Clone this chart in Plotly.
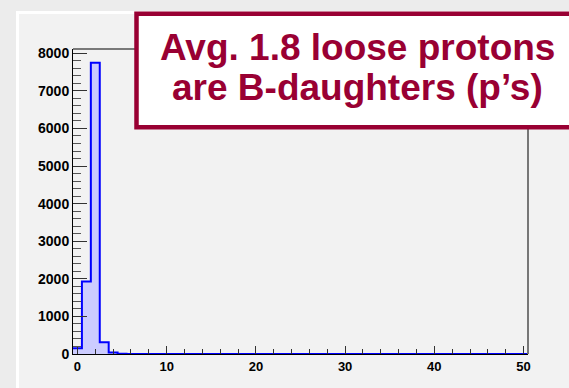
import numpy as np
import plotly.graph_objects as go

# ---- data ----
bin_centers = list(range(0, 51))
counts = [150, 1930, 7750, 310, 40, 6, 2, 1] + [0] * 43
x_ticks = [0, 10, 20, 30, 40, 50]
y_ticks = [0, 1000, 2000, 3000, 4000, 5000, 6000, 7000, 8000]
title_lines = ["Avg. 1.8 loose protons", "are B-daughters (p’s)"]

W, H = 569, 388
L, R, T, B = 73, 41, 49, 34
PW, PH = W - L - R, H - T - B

def px(p):
    return (p - L) / PW

def py(p):
    return (H - B - p) / PH

centers = np.array(bin_centers, dtype=float)
edges = np.concatenate([centers - 0.5, [centers[-1] + 0.5]])
yvals = list(counts) + [counts[-1]]

fig = go.Figure()
fig.add_trace(go.Scatter(
    x=edges, y=yvals, mode="lines", line=dict(shape="hv", color="#0000ff", width=2),
    fill="tozeroy", fillcolor="#ccccff", hoverinfo="skip", showlegend=False,
))

tickfont = dict(family="Liberation Sans, Arial, sans-serif", size=14, color="black", weight="bold")

fig.update_layout(
    width=W, height=H,
    margin=dict(l=L, r=R, t=T, b=B, pad=0),
    paper_bgcolor="#ececec",
    plot_bgcolor="rgba(0,0,0,0)",
    showlegend=False,
    xaxis=dict(
        range=[-0.5, 50.5], tickvals=x_ticks, ticks="inside", ticklen=8, tickwidth=1,
        tickcolor="#333", showgrid=False, zeroline=False, showline=True, linecolor="black",
        tickfont=dict(tickfont, size=13),
        minor=dict(dtick=2, tick0=0, ticks="inside", ticklen=5, tickcolor="#333", showgrid=False),
    ),
    yaxis=dict(
        range=[0, 8114], tickvals=y_ticks, ticks="inside", ticklen=14, tickwidth=1,
        tickcolor="#333", showgrid=False, zeroline=False, showline=True, linecolor="black",
        tickfont=tickfont,
        minor=dict(dtick=200, tick0=0, ticks="inside", ticklen=8, tickcolor="#555", showgrid=False),
    ),
)

shapes = [
    # panel
    dict(type="rect", xref="paper", yref="paper", x0=px(17.5), x1=px(620), y0=py(12.5), y1=py(420),
         fillcolor="#f2f2f2", line=dict(color="white", width=3), layer="below"),
    # top frame line
    dict(type="line", xref="paper", yref="paper", x0=0, x1=1, y0=1, y1=1,
         line=dict(color="black", width=1), layer="above"),
    # right frame line
    dict(type="line", xref="paper", yref="paper", x0=1, x1=1, y0=0, y1=1,
         line=dict(color="#777777", width=2), layer="above"),
    # text box
    dict(type="rect", xref="paper", yref="paper", x0=px(136.5), x1=px(620), y0=py(13.8), y1=py(127.2),
         fillcolor="white", line=dict(color="#990033", width=4.5), layer="above"),
]
fig.update_layout(shapes=shapes)

for line, cy in zip(title_lines, [47, 87]):
    fig.add_annotation(
        x=px(357), y=py(cy), xref="paper", yref="paper", text=line, showarrow=False,
        xanchor="center", yanchor="middle",
        font=dict(family="Liberation Sans, Arial, sans-serif", size=37, color="#990033", weight="bold"),
    )

fig.write_html("out.html")
